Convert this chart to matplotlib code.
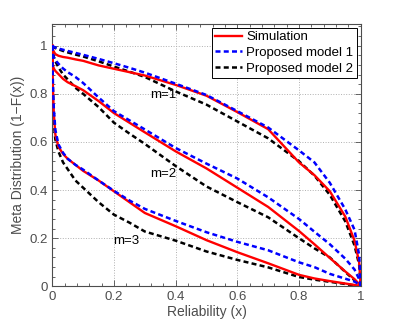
# meta distribution vs reliability: simulation against two proposed models
import matplotlib
matplotlib.use('Agg')
import matplotlib.pyplot as plt
from matplotlib.ticker import FixedLocator, MultipleLocator

# common x grid (denser near 0 and 1 where curves are steep)
x = [0, 0.002, 0.005, 0.01, 0.02, 0.035, 0.05, 0.075, 0.1, 0.15, 0.2, 0.25,
     0.3, 0.4, 0.5, 0.6, 0.7, 0.8, 0.85, 0.9, 0.95, 0.98, 0.995, 1.0]

# simulation (red)
sim_m1 = [1.0, 0.985, 0.975, 0.965, 0.958, 0.953, 0.95, 0.943, 0.937, 0.918, 0.904, 0.89,
          0.876, 0.837, 0.792, 0.724, 0.653, 0.515, 0.462, 0.395, 0.29, 0.19, 0.10, 0.0]
sim_m2 = [1.0, 0.92, 0.905, 0.895, 0.882, 0.862, 0.848, 0.832, 0.815, 0.77, 0.72, 0.68,
          0.64, 0.561, 0.49, 0.41, 0.33, 0.23, 0.175, 0.118, 0.062, 0.03, 0.01, 0.0]
sim_m3 = [1.0, 0.83, 0.72, 0.63, 0.58, 0.55, 0.53, 0.505, 0.48, 0.44, 0.395, 0.35,
          0.305, 0.25, 0.192, 0.142, 0.096, 0.048, 0.033, 0.022, 0.012, 0.006, 0.002, 0.0]

# proposed model 1 (blue)
pm1_m1 = [1.0, 0.998, 0.995, 0.992, 0.988, 0.983, 0.978, 0.97, 0.962, 0.945, 0.927, 0.908,
          0.888, 0.842, 0.795, 0.728, 0.66, 0.565, 0.515, 0.43, 0.32, 0.235, 0.13, 0.0]
pm1_m2 = [1.0, 0.965, 0.952, 0.94, 0.925, 0.905, 0.89, 0.87, 0.845, 0.785, 0.728, 0.69,
          0.652, 0.575, 0.51, 0.448, 0.37, 0.28, 0.227, 0.175, 0.115, 0.07, 0.03, 0.0]
pm1_m3 = [1.0, 0.85, 0.74, 0.65, 0.59, 0.555, 0.53, 0.505, 0.485, 0.44, 0.397, 0.357,
          0.322, 0.272, 0.225, 0.185, 0.15, 0.1, 0.08, 0.052, 0.032, 0.02, 0.008, 0.0]

# proposed model 2 (black)
pm2_m1 = [1.0, 0.997, 0.994, 0.99, 0.985, 0.978, 0.972, 0.963, 0.955, 0.935, 0.913, 0.892,
          0.87, 0.81, 0.755, 0.685, 0.615, 0.52, 0.46, 0.38, 0.27, 0.17, 0.09, 0.0]
pm2_m2 = [1.0, 0.97, 0.953, 0.935, 0.91, 0.88, 0.86, 0.825, 0.80, 0.745, 0.68, 0.635,
          0.592, 0.5, 0.415, 0.35, 0.287, 0.2, 0.158, 0.12, 0.06, 0.025, 0.008, 0.0]
pm2_m3 = [1.0, 0.78, 0.68, 0.61, 0.56, 0.515, 0.487, 0.44, 0.41, 0.35, 0.298, 0.265,
          0.228, 0.19, 0.145, 0.11, 0.079, 0.039, 0.028, 0.019, 0.01, 0.004, 0.001, 0.0]

labels = ['Simulation', 'Proposed model 1', 'Proposed model 2']
m_text = ['m=1', 'm=2', 'm=3']
m_pos = [(0.36, 0.795), (0.36, 0.465), (0.24, 0.19)]

xticks = [0, 0.2, 0.4, 0.6, 0.8, 1]
xtick_labels = ['0', '0.2', '0.4', '0.6', '0.8', '1']
yticks = [0, 0.2, 0.4, 0.6, 0.8, 1]
ytick_labels = ['0', '0.2', '0.4', '0.6', '0.8', '1']

plt.rcParams['font.family'] = ['Liberation Sans', 'DejaVu Sans']
gray = '#4d4d4d'

fig = plt.figure(figsize=(3.99, 3.22), dpi=100)
ax = fig.add_axes([0.131, 0.1106, 0.773, 0.8149])

dash = (2.0, 1.3)
for i, (s, p1, p2) in enumerate(zip([sim_m1, sim_m2, sim_m3],
                                    [pm1_m1, pm1_m2, pm1_m3],
                                    [pm2_m1, pm2_m2, pm2_m3])):
    ax.plot(x, s, color='red', linewidth=1.7, label=labels[0] if i == 0 else None, zorder=3)
    ax.plot(x, p1, color='blue', linewidth=1.8, linestyle=(0, dash),
            label=labels[1] if i == 0 else None, zorder=4)
    ax.plot(x, p2, color='black', linewidth=1.8, linestyle=(0, dash),
            label=labels[2] if i == 0 else None, zorder=2)

for t, (tx, ty) in zip(m_text, m_pos):
    ax.text(tx, ty, t, fontsize=9.5, ha='center', va='center', color='black')

ax.set_xlim(0, 1)
ax.set_ylim(0, 1.09)
ax.xaxis.set_major_locator(FixedLocator(xticks))
ax.yaxis.set_major_locator(FixedLocator(yticks))
ax.set_xticklabels(xtick_labels)
ax.set_yticklabels(ytick_labels)
ax.xaxis.set_minor_locator(MultipleLocator(0.04))
ax.yaxis.set_minor_locator(MultipleLocator(0.04))
ax.tick_params(which='both', direction='in', top=True, right=True, colors=gray,
               labelsize=9.5, labelcolor=gray)
ax.tick_params(which='major', length=4, width=0.6)
ax.tick_params(which='minor', length=2, width=0.6)
for sp in ax.spines.values():
    sp.set_color(gray)
    sp.set_linewidth(0.8)
ax.grid(True, which='major', linestyle=':', color='#b0b0b0', linewidth=0.7)

ax.set_xlabel('Reliability (x)', fontsize=10, color=gray, labelpad=1)
ax.set_ylabel('Meta Distribution (1\u2212F(x))', fontsize=10, color=gray, labelpad=3)

leg = ax.legend(loc='upper right', fontsize=9.5, frameon=True, fancybox=False,
                edgecolor='black', framealpha=1, borderaxespad=0.3,
                handlelength=2.0, handletextpad=0.35, labelspacing=0.25,
                borderpad=0.25)
leg.get_frame().set_linewidth(0.7)

fig.savefig('out.png', dpi=100)
